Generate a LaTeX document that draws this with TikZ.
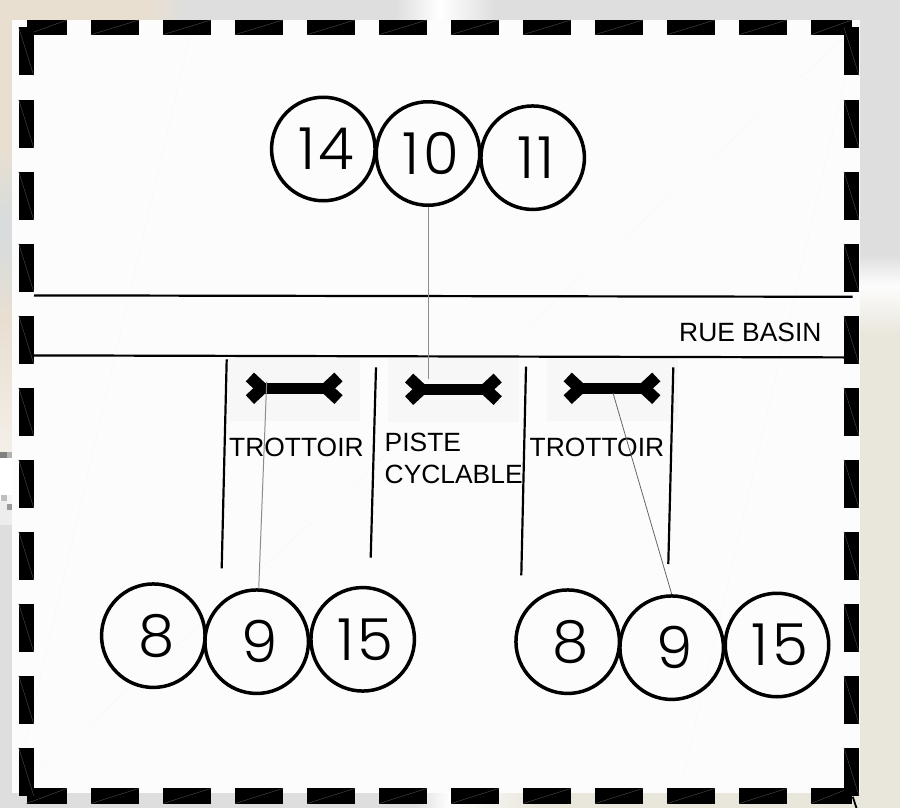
\documentclass[tikz,border=0pt]{standalone}
\usepackage{fontspec}
\setmainfont{Liberation Sans}
\newfontfamily\numfont[LetterSpace=6]{Poppins Light}
\definecolor{beigeA}{RGB}{232,223,209}
\definecolor{beigeB}{RGB}{233,230,220}
\definecolor{greyA}{RGB}{222,222,222}
\definecolor{greyB}{RGB}{216,220,220}
\tikzset{
  x=1pt,y=-1pt,
  spot/.style={circle,draw=black,line width=3.5pt,fill=none,minimum size=103.5pt,inner sep=0pt,font=\numfont\fontsize{58}{58}\selectfont,execute at begin node=\hspace*{6pt}},
  lbl/.style={anchor=base west,inner sep=0pt,text=black,font=\fontsize{26.4}{26.4}\selectfont},
  roadline/.style={line width=2.2pt,black},
  walkline/.style={line width=2.2pt,black},
  tieline/.style={line width=1pt,color=black!45},
  faint/.style={line width=.4pt,color=black!3},
  hatch/.style={line width=.4pt,color=black!70},
  pad/.style={fill=black!3,draw=none},
  barbody/.style={line width=11pt,black},
  bararm/.style={line width=12pt,black}
}
\newcommand{\sbar}[3]{%
  \coordinate (#3) at (#1,#2);
  \draw[barbody] (#1-35,#2) -- (#1+35,#2);
  \draw[bararm] (#1-30,#2+2) -- (#1-44.3,#2-11.3);
  \draw[bararm] (#1-30,#2-2) -- (#1-44.3,#2+11.3);
  \draw[bararm] (#1+30,#2+2) -- (#1+44.3,#2-11.3);
  \draw[bararm] (#1+30,#2-2) -- (#1+44.3,#2+11.3);
}
\begin{document}
\begin{tikzpicture}
\useasboundingbox (0,0) rectangle (900,808);
% surrounding background
\fill[greyA] (0,0) rectangle (900,20);
\fill[beigeA] (0,0) rectangle (150,20);
\fill[left color=beigeA,right color=greyA] (150,0) rectangle (185,20);
\fill[left color=greyA,right color=white] (395,0) rectangle (440,20);
\fill[left color=white,right color=greyA] (440,0) rectangle (495,20);
\fill[beigeA] (0,20) rectangle (12,150);
\fill[top color=beigeA,bottom color=greyB] (0,150) rectangle (12,215);
\fill[greyB] (0,215) rectangle (12,240);
\fill[top color=greyB,bottom color=beigeA] (0,240) rectangle (12,320);
\fill[top color=beigeA,bottom color=beigeA!50] (0,320) rectangle (12,452);
\fill[black!50] (0,452) rectangle (7,458);
\fill[black!30] (7,452) rectangle (12,458);
\fill[white] (0,458) rectangle (12,495);
\fill[black!25] (1,495) rectangle (7,501);
\fill[black!40] (7,504) rectangle (12,510);
\fill[black!7] (0,501) rectangle (7,525);
\fill[black!7] (7,510) rectangle (12,525);
\fill[black!4] (7,495) rectangle (12,504);
\fill[greyA] (0,525) rectangle (12,808);
\fill[greyA] (860,20) rectangle (900,255);
\fill[top color=greyA,bottom color=black!1] (860,255) rectangle (900,285);
\fill[top color=black!1,bottom color=beigeB] (860,285) rectangle (900,335);
\fill[beigeB] (860,335) rectangle (900,808);
\fill[greyA] (12,793) rectangle (415,808);
\fill[left color=greyA,right color=white] (415,793) rectangle (450,808);
\fill[left color=white,right color=beigeB] (450,793) rectangle (535,808);
\fill[beigeB] (535,793) rectangle (860,808);
% panel
\fill[black!1] (11.5,20) rectangle (860,793);
\draw[faint] (845,37) -- (34,775);
\draw[faint] (190,35) -- (14,790);
\draw[faint] (845,78) -- (680,790);
% grey pads
\fill[pad] (227.5,358) rectangle (360,420.7);
\fill[pad] (387.7,358) rectangle (518.7,421.7);
\fill[pad] (546.7,358) rectangle (677.7,420.7);
% street
\draw[roadline] (34,295.4) -- (852.5,296.8);
\draw[roadline] (34,355.4) -- (844,357.4);
% dashed frame
\foreach \x in {91,163,...,739} {
  \fill[black] (\x,20) rectangle (\x+48,34.7);
  \draw[hatch] (\x,34.7) -- (\x+48,20);
  \fill[black] (\x,788.4) rectangle (\x+48,803.5);
  \draw[hatch] (\x,803.5) -- (\x+48,788.4);
}
\fill[black] (26.5,20) rectangle (67,34.7);
\draw[hatch] (34,32) -- (67,20);
\fill[black] (811,20) rectangle (852,34.7);
\draw[hatch] (811,34.7) -- (852,20);
\fill[black] (26.5,788.4) rectangle (67,803.5);
\draw[hatch] (26.5,803.5) -- (67,788.4);
\fill[black] (811,788.4) rectangle (852,803.5);
\draw[hatch] (811,803.5) -- (845,790);
\foreach \y in {27.5,99.7,171.7,...,747.7} {
  \pgfmathsetmacro{\yy}{\y+48}
  \fill[black] (18.7,\y) rectangle (33.7,\yy);
  \draw[hatch] (18.7,\y) -- (33.7,\yy);
  \fill[black] (844,\y) rectangle (859,\yy);
  \draw[hatch] (844,\y) -- (859,\yy);
}
\node[coordinate] (tickA) at (852.7,796.7) {};
\node[coordinate] (tickB) at (856.5,808) {};
\draw[line width=1.8pt,black] (tickA) -- (tickB);
% sidewalk lines
\draw[walkline] (226.7,359.3) -- (221.7,568.3);
\draw[walkline] (376,367.3) -- (370.7,557.7);
\draw[walkline] (526,366.7) -- (521.3,575.3);
\draw[walkline] (673.3,367.3) -- (668.3,564);
% signal bars
\sbar{294.2}{388.3}{barA}
\sbar{453.4}{389.3}{barB}
\sbar{612}{388.3}{barC}
\coordinate (tieA) at (266.7,381.7);
\coordinate (tieB) at (428,379);
\coordinate (tieC) at (613,393);
% signal heads
\node[spot] (c14) at (323.3,149) {14};
\node[spot] (c10) at (428,153.5) {10};
\node[spot] (c11) at (532.7,157.7) {11};
\node[spot] (l8) at (153.3,635.7) {8};
\node[spot] (l9) at (256.7,641.7) {9};
\node[spot] (l15) at (362.7,639.3) {15};
\node[spot] (r8) at (567.7,641.7) {8};
\node[spot] (r9) at (671.7,647.7) {9};
\node[spot] (r15) at (777,645) {15};
% labels
\node[lbl] (t1) at (229,456.7) {TROTTOIR};
\node[lbl] (t2) at (529.5,456) {TROTTOIR};
\node[lbl] (t3) at (384.5,451.7) {PISTE};
\node[lbl] (t4) at (384.5,483.3) {CYCLABLE};
\node[lbl] (t5) at (679,341.7) {RUE BASIN};
% ties
\draw[tieline] (c10) -- (tieB);
\draw[tieline] (l9) -- (tieA);
\draw[tieline,line width=.8pt,color=black!60] (r9.north) -- (tieC);
\end{tikzpicture}
\end{document}
